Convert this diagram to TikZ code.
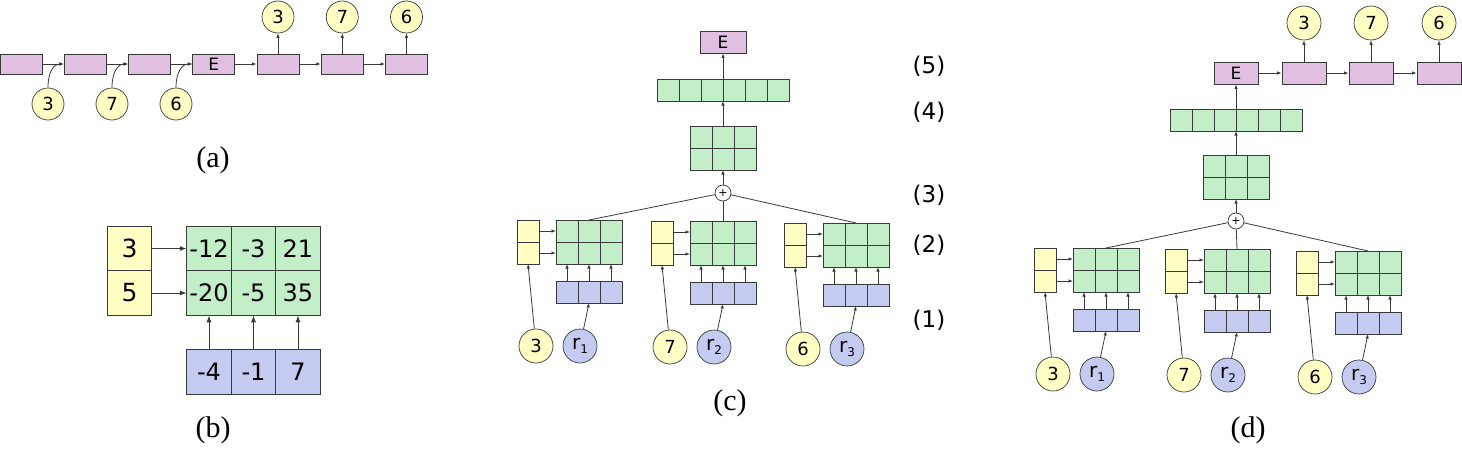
\documentclass[tikz,border=0pt]{standalone}
\usepackage{fontspec}
\setmainfont{DejaVu Sans}
\newfontfamily\capfont{Liberation Serif}
\usepackage{tikz}
\usetikzlibrary{arrows.meta,positioning}
\definecolor{pinkc}{HTML}{E0BFE0}
\definecolor{yelc}{HTML}{FFFFC4}
\definecolor{grnc}{HTML}{C2EEC8}
\definecolor{bluc}{HTML}{C4CAF0}
\definecolor{edgec}{HTML}{3A3A3A}
\tikzset{
  ar/.style={-{Latex[length=4.5pt,width=3.5pt]},line width=0.8pt,edgec},
  ln/.style={line width=0.8pt,edgec},
  cell/.style={draw=edgec,line width=0.9pt,minimum size=22pt,inner sep=0pt,outer sep=0pt},
  ycell/.style={cell,fill=yelc},
  gcell/.style={cell,fill=grnc},
  bcell/.style={cell,fill=bluc},
  pbox/.style={draw=edgec,line width=0.9pt,fill=pinkc,minimum width=44pt,minimum height=22pt,inner sep=0pt,font=\fontsize{17}{17}\selectfont},
  numc/.style={circle,draw=edgec,line width=0.7pt,fill=yelc,minimum size=34pt,inner sep=0pt,font=\fontsize{18}{18}\selectfont},
  rc/.style={numc,fill=bluc},
  pls/.style={circle,draw=edgec,line width=0.7pt,fill=white,minimum size=16pt,inner sep=0pt,font=\fontsize{11}{11}\selectfont},
  big/.style={draw=edgec,line width=1.3pt,minimum size=44.5pt,inner sep=0pt,outer sep=0pt,font=\fontsize{24}{24}\selectfont},
  bar/.style={-{Latex[length=7pt,width=5pt]},line width=1pt,edgec},
  lay/.style={font=\fontsize{23}{23}\selectfont},
  captxt/.style={font=\capfont\fontsize{30}{30}\selectfont}
}
\newcommand{\rsub}[1]{\fontsize{20}{20}\selectfont r\raisebox{-4pt}{\fontsize{12}{12}\selectfont #1}}
% one input group: codes, relation matrix, product
\newcommand{\grp}[5]{%
 \begin{scope}[shift={(#2,#3)}]
  \foreach \j in {1,2}{
   \node[ycell] (#1y\j) at (11,22*\j-11) {};
   \foreach \i in {1,2,3}
    \node[gcell] (#1m\j\i) at (28+22*\i,22*\j-11) {};
   \draw[ar] (#1y\j) -- (#1m\j1);}
  \foreach \i in {1,2,3}{
   \node[bcell] (#1b\i) at (28+22*\i,72) {};
   \draw[ar] (#1b\i) -- (#1m2\i);}
  \node[numc] (#1n) at (19,126) {#4};
  \node[rc] (#1r) at (63,126) {\rsub{#5}};
  \draw[ar] (#1n) -- (#1y2.south);
  \draw[ar] (#1r) -- (#1b2.south);
 \end{scope}}

\begin{document}
\begin{tikzpicture}[x=1pt,y=-1pt]
\useasboundingbox (0,0) rectangle (1462,455);
% (a)
\foreach \i in {1,...,7}
 \node[pbox,minimum width=42pt,minimum height=20pt] (a\i) at ({21+64.25*(\i-1)},64) {\ifnum\i=4 E\fi};
\foreach \i in {1,...,6}{
 \pgfmathtruncatemacro{\k}{\i+1}
 \draw[ar] (a\i) -- (a\k);}
\foreach \d/\k [count=\i] in {3/2,7/3,6/4}{
 \node[numc,minimum size=32pt] (ai\i) at ({48+64*(\i-1)},104) {\d};
 \draw[ar] (ai\i.north) .. controls +(0,-16) and +(-10,0) .. (a\k.west);}
\foreach \d/\k [count=\i] in {3/5,7/6,6/7}{
 \node[numc,minimum size=32pt] (ao\i) at ({21+64.25*(\k-1)},17) {\d};
 \draw[ar] (a\k) -- (ao\i);}
\node[captxt] (capa) at (213,160) {(a)};
% (b)
\foreach \v [count=\i] in {3,5}
 \node[big,fill=yelc,font=\fontsize{25}{25}\selectfont] (by\i) at (129.5,204+44.5*\i) {\v};
\foreach \v [count=\i] in {-12,-3,21}
 \node[big,fill=grnc] (bg1\i) at (164.5+44.5*\i,248.5) {\v};
\foreach \v [count=\i] in {-20,-5,35}
 \node[big,fill=grnc] (bg2\i) at (164.5+44.5*\i,293) {\v};
\foreach \v [count=\i] in {-4,-1,7}{
 \node[big,fill=bluc] (bb\i) at (164.5+44.5*\i,372) {\v};
 \draw[bar] (bb\i) -- (bg2\i);}
\draw[bar] (by1) -- (bg11);
\draw[bar] (by2) -- (bg21);
\node[captxt] (capb) at (213,430) {(b)};
% (c)
\node[pls] (cq) at (723,193) {+};
\foreach \j in {1,2}
 \foreach \i in {1,2,3}
  \node[gcell] (cu\j\i) at (679+22*\i,115+22*\j) {};
\foreach \i in {1,...,6}
 \node[gcell] (cv\i) at (646+22*\i,90) {};
\node[pbox,minimum width=46pt] (cE) at (723,42) {E};
\draw[ar] (cq) -- (cu22);
\draw[ar] (cu12) -- (cv3.south east);
\draw[ar] (cv3.north east) -- (cE);
\grp{cL}{517}{220}{3}{1}
\grp{cM}{651}{221}{7}{2}
\grp{cR}{784}{223}{6}{3}
\foreach \g in {cL,cM,cR}
 \draw[ln] (cq) -- (\g m12.north);
\foreach \t/\y in {5/66,4/112,3/195,2/245,1/320}
 \node[lay] (lay\t) at (929,\y) {(\t)};
\node[captxt] (capc) at (730,403) {(c)};
% (d)
\node[pls] (dq) at (1236,221) {+};
\foreach \j in {1,2}
 \foreach \i in {1,2,3}
  \node[gcell] (du\j\i) at (1192+22*\i,144+22*\j) {};
\foreach \i in {1,...,6}
 \node[gcell] (dv\i) at (1159+22*\i,120) {};
\node[pbox] (dE) at (1236,73) {E};
\draw[ar] (dq) -- (du22);
\draw[ar] (du12) -- (dv3.south east);
\draw[ar] (dv3.north east) -- (dE);
\foreach \d/\x [count=\i] in {3/1304,7/1371,6/1439}{
 \node[pbox] (dp\i) at (\x,73) {};
 \node[numc] (do\i) at (\x,23) {\d};
 \draw[ar] (dp\i) -- (do\i);}
\draw[ar] (dE) -- (dp1);
\draw[ar] (dp1) -- (dp2);
\draw[ar] (dp2) -- (dp3);
\grp{dL}{1034}{248}{3}{1}
\grp{dM}{1165}{249}{7}{2}
\grp{dR}{1296}{251}{6}{3}
\foreach \g in {dL,dM,dR}
 \draw[ln] (dq) -- (\g m12.north);
\node[captxt] (capd) at (1248,430) {(d)};
\end{tikzpicture}
\end{document}
